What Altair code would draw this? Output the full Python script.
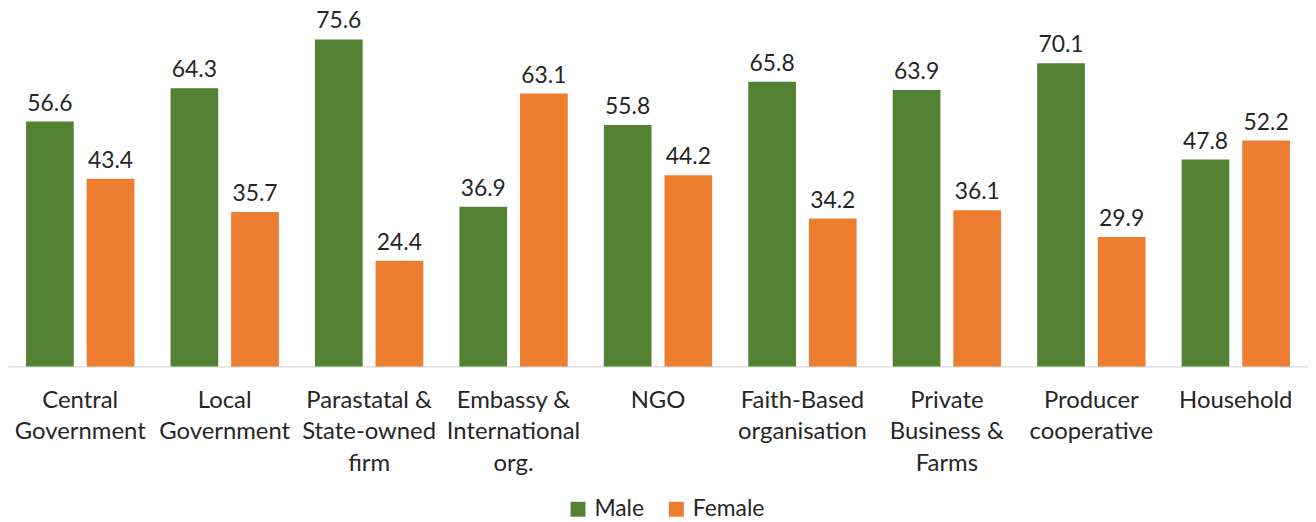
import altair as alt
import pandas as pd

categories = ["Central|Government", "Local|Government", "Parastatal &|State-owned|firm",
              "Embassy &|International|org.", "NGO", "Faith-Based|organisation",
              "Private|Business &|Farms", "Producer|cooperative", "Household"]
male = [56.6, 64.3, 75.6, 36.9, 55.8, 65.8, 63.9, 70.1, 47.8]
female = [43.4, 35.7, 24.4, 63.1, 44.2, 34.2, 36.1, 29.9, 52.2]
series = ["Male", "Female"]
colors = ["#548235", "#ED7D31"]

rows = []
for c, m, f in zip(categories, male, female):
    rows.append({"cat": c, "sex": "Male", "val": m})
    rows.append({"cat": c, "sex": "Female", "val": f})
df = pd.DataFrame(rows)

FONT = "Lato"

x = alt.X("cat:N", sort=categories, title=None,
          scale=alt.Scale(paddingInner=0, paddingOuter=0),
          axis=alt.Axis(labelAngle=0, labelExpr="split(datum.label, '|')",
                        labelFont=FONT, labelFontSize=24, labelColor="#262626",
                        labelLineHeight=32, labelPadding=34, labelBaseline="middle",
                        ticks=False, domainColor="#d9d9d9", domainWidth=1.5,
                        labelLimit=200))
xo = alt.XOffset("sex:N", sort=series,
                 scale=alt.Scale(paddingInner=0.213, paddingOuter=0.2975))
y = alt.Y("val:Q", scale=alt.Scale(domain=[0, 82.26], nice=False), axis=None)

bars = alt.Chart(df).mark_bar().encode(
    x=x, xOffset=xo, y=y,
    color=alt.Color("sex:N", sort=series,
                    scale=alt.Scale(domain=series, range=colors),
                    legend=alt.Legend(title=None, orient="none", direction="horizontal",
                                      legendX=562, legendY=490,
                                      symbolType="square", symbolSize=225,
                                      symbolStrokeWidth=0,
                                      labelFont=FONT, labelFontSize=23,
                                      labelColor="#262626", columnPadding=20,
                                      labelOffset=5))
)

texts = alt.Chart(df).mark_text(baseline="bottom", dy=-6, font=FONT, fontSize=23,
                                color="#262626").encode(
    x=x, xOffset=xo, y=y, text=alt.Text("val:Q", format=".1f")
)

chart = alt.layer(bars, texts).properties(
    width=1308, height=358, padding=0
).configure(background="white").configure_view(stroke=None)

chart.save("out.html", embed_options={"renderer": "svg", "actions": False})
